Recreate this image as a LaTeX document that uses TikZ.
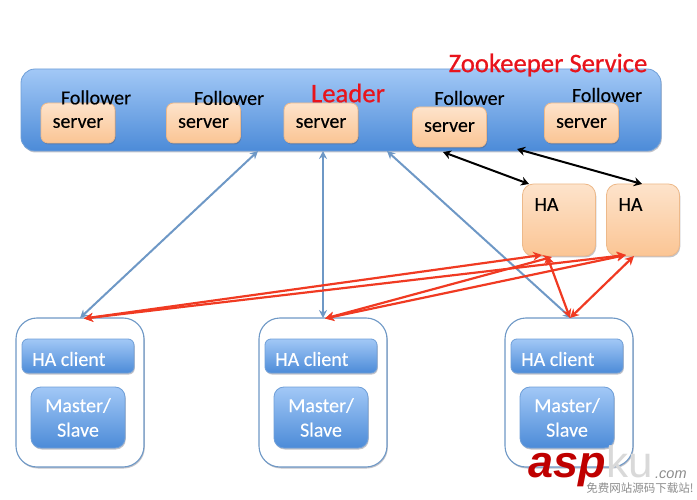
\documentclass[tikz,border=0pt]{standalone}
\usepackage{fontspec}
\setmainfont[FakeBold=0.25]{Carlito}
\newfontfamily\heavyfont[FakeBold=0.7]{Carlito}
\newfontfamily\wmfont{Liberation Sans}
\newfontfamily\wmcjk{Noto Sans CJK SC}
\usetikzlibrary{arrows.meta,shadows}
\definecolor{svcTop}{HTML}{A2C8F6}
\definecolor{svcBot}{HTML}{4C8BD8}
\definecolor{svcEdge}{HTML}{6F9FD8}
\definecolor{orTop}{HTML}{FDE3CB}
\definecolor{orBot}{HTML}{FBC594}
\definecolor{orEdge}{HTML}{EDB98A}
\definecolor{linkBlue}{HTML}{6E98C6}
\definecolor{linkRed}{HTML}{F03A22}
\definecolor{zkRed}{HTML}{E8141C}
\definecolor{softShadow}{HTML}{555566}
\newcommand{\lowered}[1]{\raisebox{-1.5pt}{#1}}
\tikzset{
  softshadow/.style={drop shadow={shadow xshift=0.8pt,shadow yshift=-1.5pt,opacity=0.35,fill=softShadow}},
  bluebox/.style={draw=svcEdge,line width=0.8pt,top color=svcTop,bottom color=svcBot,rounded corners=8pt,inner sep=0pt,softshadow,text=white,font=\fontsize{20}{23}\selectfont,align=center},
  orbox/.style={draw=orEdge,line width=0.8pt,top color=orTop,bottom color=orBot,rounded corners=7pt,inner sep=0pt,softshadow,font=\fontsize{20}{23}\selectfont},
  clientbox/.style={draw=linkBlue,line width=1.1pt,fill=white,rounded corners=21pt,inner sep=0pt,softshadow},
  lbl/.style={inner sep=0pt,font=\fontsize{20}{23}\selectfont},
  whitelbl/.style={lbl,text=white},
  redlbl/.style={inner sep=0pt,text=zkRed,font=\heavyfont\fontsize{26.7}{30}\selectfont},
  bluelink/.style={draw=linkBlue,line width=2pt,{Stealth[length=8pt,width=8pt]}-{Stealth[length=8pt,width=8pt]}},
  blacklink/.style={draw=black,line width=2pt,{Stealth[length=8pt,width=9pt]}-{Stealth[length=8pt,width=9pt]}},
  redlink/.style={draw=linkRed,line width=2.2pt,{Stealth[length=9pt,width=9pt]}-{Stealth[length=9pt,width=9pt]}},
}
\begin{document}
\begin{tikzpicture}[x=1pt,y=-1pt]
\useasboundingbox (0,0) rectangle (697,500);
% service
\node[draw=svcEdge,line width=0.8pt,top color=svcTop,bottom color=svcBot,rounded corners=14pt,inner sep=0pt,softshadow,minimum width=640pt,minimum height=82pt] (svc) at (341,110) {};
% servers
\node[orbox,minimum width=74pt,minimum height=40pt] (s1) at (78,123) {\lowered{server}};
\node[orbox,minimum width=74pt,minimum height=40pt] (s2) at (203.5,123) {\lowered{server}};
\node[orbox,minimum width=74pt,minimum height=40pt] (s3) at (321,123) {\lowered{server}};
\node[orbox,minimum width=74pt,minimum height=40pt] (s4) at (449.5,127) {\lowered{server}};
\node[orbox,minimum width=74pt,minimum height=40pt] (s5) at (581.5,123) {\lowered{server}};
% follower labels
\node[lbl] (f1) at (96,97.5) {Follower};
\node[lbl] (f2) at (229,98) {Follower};
\node[lbl] (f4) at (469.5,98) {Follower};
\node[lbl] (f5) at (607,95) {Follower};
\node[redlbl] (lead) at (348,93) {Leader};
\node[redlbl] (zk) at (548,65) {Zookeeper Service};
% HA
\node[orbox,rounded corners=11pt,minimum width=73pt,minimum height=72pt] (ha1) at (559,220) {};
\node[orbox,rounded corners=11pt,minimum width=73pt,minimum height=72pt] (ha2) at (643,220) {};
\node[lbl] (ha1t) at (546.5,204.5) {HA};
\node[lbl] (ha2t) at (630.5,204.5) {HA};
% clients
\foreach \n/\cx in {a/80,b/323,c/569}{
  \node[clientbox,minimum width=128pt,minimum height=149pt] (out\n) at (\cx,392.5) {};
  \node[bluebox,rounded corners=6pt,minimum width=112pt,minimum height=34pt] (cl\n) at ({\cx-2},356) {};
  \node[bluebox,rounded corners=10pt,minimum width=94pt,minimum height=61pt,font=\fontsize{20}{24.5}\selectfont] (ms\n) at ({\cx-2},417.5) {\raisebox{-1pt}{Master/}\\\raisebox{-1pt}{Slave}};
  \node[whitelbl,anchor=west] (ct\n) at ({\cx-48},359) {HA client};
}
% coordinates on the edges
\coordinate (blA) at (258,151);
\coordinate (blB) at (323,151);
\coordinate (blC) at (387,151);
\coordinate (bkA) at (443,152);
\coordinate (bkB) at (517,149);
\coordinate (haA) at (529,184);
\coordinate (haB) at (642,184);
\coordinate (cA) at (80,318);
\coordinate (cB) at (323,318);
\coordinate (cC) at (571,318);
\coordinate (rA) at (84,318.5);
\coordinate (rB) at (325,318.5);
\coordinate (rC) at (570,318);
\coordinate (h1a) at (542,255);
\coordinate (h1b) at (552,257);
\coordinate (h1c) at (547,256);
\coordinate (h2a) at (626,255);
\coordinate (h2b) at (634,256);
% links
\draw[bluelink] (blA) -- (cA);
\draw[bluelink] (blB) -- (cB);
\draw[bluelink] (blC) -- (cC);
\draw[blacklink] (bkA) -- (haA);
\draw[blacklink] (bkB) -- (haB);
\draw[redlink] (rA) -- (h1a);
\draw[redlink] (rA) -- (h2a);
\draw[redlink] (rB) -- (h1b);
\draw[redlink] (rB) -- (h2a);
\draw[redlink] (rC) -- (h1c);
\draw[redlink] (rC) -- (h2b);
% watermark
\node[inner sep=0pt,anchor=base west,text=red!75!black,font=\wmfont\bfseries\itshape\fontsize{45}{45}\selectfont] (wm1) at (528,477) {asp};
\node[inner sep=0pt,anchor=base west,text=black!15,font=\wmfont\fontsize{44}{44}\selectfont] (wm2) at (606,477) {ku};
\node[inner sep=0pt,anchor=base west,text=black!45,font=\wmfont\itshape\fontsize{14.5}{15}\selectfont] (wm3) at (655,478) {.com};
\node[inner sep=0pt,text=black!45,font=\wmcjk\fontsize{11.5}{12}\selectfont] (wm4) at (640,488) {免费网站源码下载站!};
\end{tikzpicture}
\end{document}
